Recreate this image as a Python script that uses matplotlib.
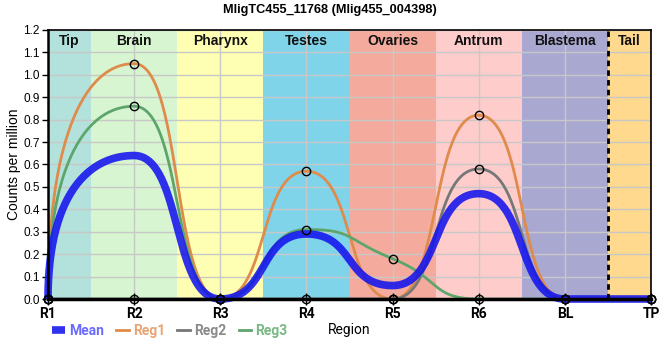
import numpy as np
import matplotlib
matplotlib.use("Agg")
import matplotlib.pyplot as plt
from matplotlib.lines import Line2D

# categories on the x axis
regions = ["R1", "R2", "R3", "R4", "R5", "R6", "BL", "TP"]

# background bands (name, start, end in category units)
band_names = ["Tip", "Brain", "Pharynx", "Testes", "Ovaries", "Antrum", "Blastema", "Tail"]
band_edges = [0, 0.5, 1.5, 2.5, 3.5, 4.5, 5.5, 6.5, 7]
band_colors = ["#b3e2dd", "#d7f5d0", "#ffffb4", "#7fd4ea", "#f4ab9d", "#ffcccc", "#a9a8d0", "#ffd98d"]

# series values
mean = [0, 0.64, 0, 0.29, 0.06, 0.47, 0, 0]
reg1 = [0, 1.05, 0, 0.57, 0, 0.82, 0, 0]
reg2 = [0, 0, 0, 0, 0, 0.58, 0, 0]
reg3 = [0, 0.86, 0, 0.31, 0.18, 0, 0, 0]


def smooth(ys, s=0.28, k0=0.7, n=60):
    # bezier spline through the points, flat at local extremes
    xs = np.arange(len(ys), dtype=float)
    ys = np.asarray(ys, dtype=float)
    m = len(ys)
    hx = np.zeros(m)
    hy = np.zeros(m)
    for i in range(1, m - 1):
        hx[i] = s * (xs[i + 1] - xs[i - 1])
        if (ys[i] - ys[i - 1]) * (ys[i + 1] - ys[i]) > 0:
            hy[i] = s * (ys[i + 1] - ys[i - 1])
    hy[0] = k0 * (ys[1] - ys[0])
    hy[-1] = k0 * (ys[-1] - ys[-2])
    t = np.linspace(0, 1, n)[:, None]
    out_x, out_y = [], []
    for i in range(m - 1):
        p0 = np.array([xs[i], ys[i]])
        p3 = np.array([xs[i + 1], ys[i + 1]])
        p1 = p0 + [hx[i], hy[i]]
        p2 = p3 - [hx[i + 1], hy[i + 1]]
        b = (1 - t) ** 3 * p0 + 3 * (1 - t) ** 2 * t * p1 + 3 * (1 - t) * t ** 2 * p2 + t ** 3 * p3
        out_x.append(b[:, 0])
        out_y.append(b[:, 1])
    return np.concatenate(out_x), np.concatenate(out_y)


plt.rcParams["font.family"] = ["Liberation Sans", "DejaVu Sans"]

fig = plt.figure(figsize=(6.6, 3.6), dpi=100)
ax = fig.add_axes([48 / 660, 1 - 299 / 360, (651 - 48) / 660, (299 - 30) / 360])

for i, name in enumerate(band_names):
    ax.axvspan(band_edges[i], band_edges[i + 1], color=band_colors[i], lw=0, zorder=0)
    ax.text((band_edges[i] + band_edges[i + 1]) / 2, 1.15, name, ha="center", va="center",
            fontsize=10, fontweight="bold", color="#111111", zorder=6)

ax.set_xlim(0, 7)
ax.set_ylim(0, 1.2)
ax.set_yticks(np.arange(0, 1.21, 0.1))
ax.set_yticklabels(["%.1f" % v for v in np.arange(0, 1.21, 0.1)], fontsize=8.5)
ax.set_xticks(range(len(regions)))
ax.set_xticklabels(regions, fontsize=10, fontweight="bold", family="Roboto")
ax.grid(True, color="#c8c8c8", lw=1, zorder=1)
ax.set_axisbelow(True)
ax.tick_params(axis="x", direction="inout", length=9, width=1, pad=1)
ax.tick_params(axis="y", direction="out", length=4, width=1, pad=2)

ax.axvline(6.5, color="black", lw=2, ls=(0, (2, 1.5)), zorder=5)

series = [("Reg1", reg1, "#df8b4c"), ("Reg2", reg2, "#777777"), ("Reg3", reg3, "#5ea56c")]
for name, vals, col in series:
    sx, sy = smooth(vals)
    ax.plot(sx, sy, color=col, lw=2, zorder=3, clip_on=False)

mx, my = smooth(mean)
ax.plot(mx, my, color="#1414ee", lw=5.5, alpha=0.88, zorder=4, solid_capstyle="butt", clip_on=False)

for name, vals, col in series:
    ax.plot(range(len(vals)), vals, ls="none", marker="o", ms=6, mfc="none", mec="black",
            mew=1, zorder=7, clip_on=False)

for side in ["top", "right"]:
    ax.spines[side].set_linewidth(1.2)
ax.spines["left"].set_linewidth(1.8)
ax.spines["bottom"].set_linewidth(2.5)
for sp in ax.spines.values():
    sp.set_zorder(8)

fig.text(0.5, 1 - 10 / 360, "MligTC455_11768 (Mlig455_004398)", ha="center", va="center",
         fontsize=9.2, fontweight="bold")
ax.set_ylabel("Counts per million", fontsize=10)
ax.yaxis.set_label_coords(-0.044, 0.5)
ax.set_xlabel("Region", fontsize=10, labelpad=2, family="Roboto")

handles = [Line2D([], [], color="#1414ee", lw=5.5, alpha=0.88, solid_capstyle="butt"),
           Line2D([], [], color="#df8b4c", lw=2),
           Line2D([], [], color="#777777", lw=2),
           Line2D([], [], color="#5ea56c", lw=2)]
fig.legend(handles, ["Mean", "Reg1", "Reg2", "Reg3"], loc="center left",
           bbox_to_anchor=(52 / 660, 1 - 331 / 360), ncol=4, frameon=False,
           handlelength=0.9, handletextpad=0.3, columnspacing=0.9, borderaxespad=0,
           borderpad=0, labelcolor=["#6a6aff", "#e9a474", "#8a8a8a", "#78b884"],
           prop={"family": "Roboto", "size": 10, "weight": "bold"})

fig.savefig("out.png", dpi=100)
